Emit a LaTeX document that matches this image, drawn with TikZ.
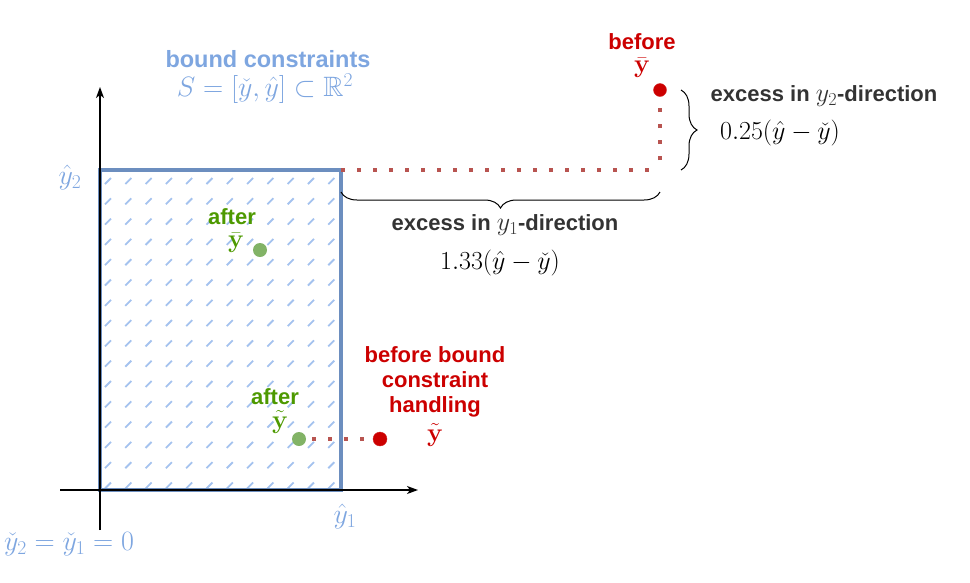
\RequirePackage{fix-cm}
\documentclass[tikz,border=0pt]{standalone}
\usepackage{amsmath,amssymb}
\usepackage[no-math]{fontspec}
\setmainfont{Liberation Sans}
\usetikzlibrary{arrows.meta,positioning,decorations.pathreplacing}
\definecolor{boxblue}{HTML}{6C8EBF}
\definecolor{lblblue}{HTML}{7EA6E0}
\definecolor{hatchblue}{HTML}{A4C2EE}
\definecolor{dotred}{HTML}{CC0000}
\definecolor{lnred}{HTML}{B85450}
\definecolor{dotgreen}{HTML}{82B366}
\definecolor{txtgreen}{HTML}{4D9900}
\definecolor{txtgray}{HTML}{333333}
\newcommand{\txtsize}{\fontsize{22}{26}\selectfont}
\newcommand{\mathsize}{\fontsize{26}{29}\selectfont}
\tikzset{
  axis/.style={line width=1.3pt,-{Stealth[length=11pt,width=8pt,inset=3pt]}},
  box/.style={draw=boxblue,line width=3.2pt},
  hatchdash/.style={hatchblue,line width=1.8pt},
  excess/.style={lnred,line width=4pt,dash pattern=on 4pt off 12pt},
  redpt/.style={circle,fill=dotred,draw=dotred!85!white,inner sep=0pt,minimum size=13pt},
  greenpt/.style={circle,fill=dotgreen,inner sep=0pt,minimum size=14pt},
  brc/.style={decorate,decoration={brace,amplitude=16pt},line width=1pt},
  bluelbl/.style={text=lblblue,font=\bfseries\fontsize{23.5}{27}\selectfont,inner sep=1pt},
  bluemath/.style={text=lblblue,font=\fontsize{28}{31}\selectfont,inner sep=1pt},
  redlbl/.style={text=dotred,font=\bfseries\txtsize,inner sep=1pt,align=center},
  greenlbl/.style={text=txtgreen,font=\bfseries\txtsize,inner sep=1pt},
  graylbl/.style={text=txtgray,font=\bfseries\txtsize,inner sep=1pt},
  mathlbl/.style={text=black,font=\mathsize,inner sep=1pt},
}

\begin{document}
\begin{tikzpicture}[x=1pt,y=-1pt]
  \useasboundingbox (0,0) rectangle (970,582);
  % feasible box
  \coordinate (ll) at (100,490);
  \coordinate (ur) at (341,170);
  \begin{scope}
    \clip (100,170) rectangle (341,490);
    \foreach \i in {0,...,12}
      \foreach \j in {0,...,16}
        \draw[hatchdash] (105+20.3*\i,184+20.3*\j) -- ++(6,-6);
  \end{scope}
  \draw[box] (ll) rectangle (ur);
  \coordinate (xs) at (60,490);
  \coordinate (xe) at (418,490);
  \coordinate (ys) at (100,530);
  \coordinate (ye) at (100,87);
  \draw[axis] (xs) -- (xe);
  \draw[axis] (ys) -- (ye);
  \node[bluemath] (yh2) at (70,177) {$\hat{y}_2$};
  \node[bluemath] (yh1) at (345,516) {$\hat{y}_1$};
  \node[bluemath] (yc) at (69,544) {$\check{y}_2=\check{y}_1=0$};
  \node[bluelbl] (bc) at (268,59) {bound constraints};
  \node[bluemath] (set) at (265,89) {$S=[\check{y},\hat{y}]\subset\mathbb{R}^2$};

  % before / after points
  \node[redpt] (ybar0) at (660,90) {};
  \node[greenpt] (ybar1) at (260,250) {};
  \node[greenpt] (ytil1) at (299,439) {};
  \node[redpt,minimum size=14pt] (ytil0) at (380,439) {};
  \coordinate (cx) at (652,170);
  \coordinate (cy) at (660,170);
  \draw[excess] (ur) -- (cx);
  \draw[excess,dash phase=6pt] (cy) -- (ybar0);
  \draw[excess,dash phase=-6pt] (ytil1) -- (ytil0);

  \node[redlbl] (bf) at (642,42) {before};
  \node[redlbl,font=\mathsize] (bfy) at (642,68) {$\bar{\mathbf{y}}$};
  \node[greenlbl] (af) at (232,217) {after};
  \node[greenlbl,font=\mathsize] (afy) at (236,243) {$\bar{\mathbf{y}}$};
  \node[greenlbl] (af2) at (275,397) {after};
  \node[greenlbl,font=\mathsize] (afy2) at (280,422) {$\tilde{\mathbf{y}}$};
  \node[redlbl] (bh) at (435,382) {before bound\\[-1pt]constraint\\[-1pt]handling};
  \node[redlbl,font=\mathsize] (bhy) at (435,435) {$\tilde{\mathbf{y}}$};

  % excess braces
  \coordinate (b1s) at (660,192);
  \coordinate (b1e) at (341,192);
  \coordinate (b2s) at (681,90);
  \coordinate (b2e) at (681,170);
  \draw[brc] (b1s) -- (b1e);
  \draw[brc] (b2s) -- (b2e);
  \node[graylbl] (ex1) at (505,225) {excess in {\mathsize$y_1$}-direction};
  \node[mathlbl] (ex1v) at (500,263) {$1.33(\hat{y}-\check{y})$};
  \node[graylbl] (ex2) at (824,96) {excess in {\mathsize$y_2$}-direction};
  \node[mathlbl] (ex2v) at (780,133) {$0.25(\hat{y}-\check{y})$};
\end{tikzpicture}
\end{document}
